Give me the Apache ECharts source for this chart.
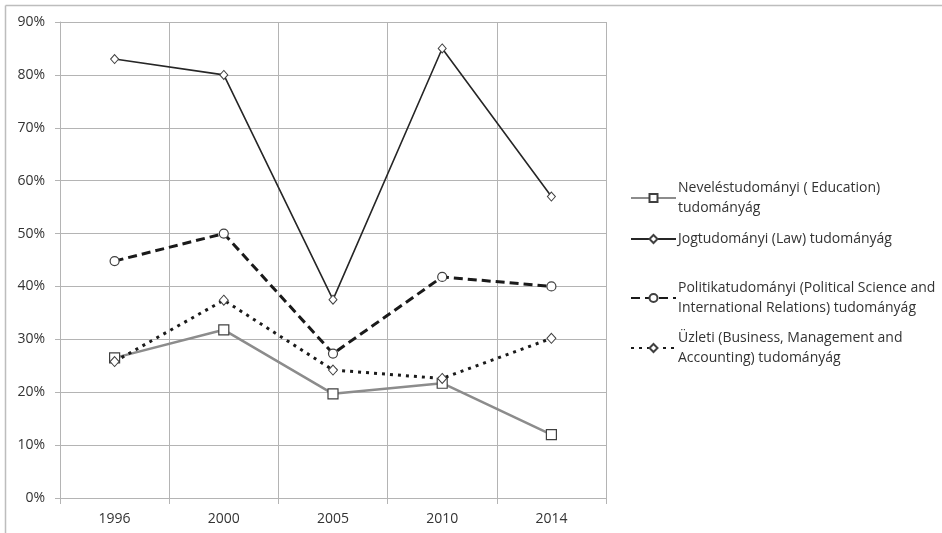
<!DOCTYPE html>
<html>
<head>
<meta charset="utf-8">
<script src="https://cdn.jsdelivr.net/npm/echarts@6/dist/echarts.min.js"></script>
<style>
html,body{margin:0;padding:0;background:#fff;}
#chart{width:942px;height:533px;}
</style>
</head>
<body>
<div id="chart"></div>
<script>
var years = ['1996', '2000', '2005', '2010', '2014'];
var educationName = 'Neveléstudományi ( Education)\ntudományág';
var lawName = 'Jogtudományi (Law) tudományág';
var politicsName = 'Politikatudományi (Political Science and\nInternational Relations) tudományág';
var businessName = 'Üzleti (Business, Management and\nAccounting) tudományág';
var education = [26.5, 31.8, 19.7, 21.7, 12.0];
var law = [83.0, 80.0, 37.5, 85.0, 57.0];
var politics = [44.8, 50.0, 27.3, 41.8, 40.0];
var business = [25.8, 37.4, 24.2, 22.6, 30.2];
var yTicks = [0, 10, 20, 30, 40, 50, 60, 70, 80, 90];

var chart = echarts.init(document.getElementById('chart'), null, {renderer: 'canvas'});
var font = 'Open Sans';
var txtColor = '#333333';
var gridColor = '#b4b4b4';

function legendFor(name, top) {
  return {
    data: [name],
    left: 630,
    top: top,
    orient: 'vertical',
    itemWidth: 45,
    itemHeight: 10,
    itemGap: 0,
    padding: 0,
    selectedMode: false,
    textStyle: {fontFamily: font, fontSize: 14, color: txtColor, lineHeight: 20, padding: [0, 0, 0, -3]}
  };
}

chart.setOption({
  animation: false,
  backgroundColor: '#fff',
  graphic: [
    {type: 'line', shape: {x1: 5.5, y1: 5.5, x2: 942, y2: 5.5}, style: {stroke: '#bdbdbd', lineWidth: 1.5}},
    {type: 'line', shape: {x1: 5.5, y1: 5.5, x2: 5.5, y2: 533}, style: {stroke: '#bdbdbd', lineWidth: 1.5}}
  ],
  grid: {left: 60, right: 336, top: 22, bottom: 35, containLabel: false},
  legend: [
    legendFor(educationName, 178),
    legendFor(lawName, 229),
    legendFor(politicsName, 278),
    legendFor(businessName, 328)
  ],
  xAxis: {
    type: 'category',
    data: years,
    boundaryGap: true,
    axisLine: {show: true, lineStyle: {color: gridColor, width: 1}},
    axisTick: {show: true, length: 6, lineStyle: {color: gridColor}},
    splitLine: {show: true, interval: 0, lineStyle: {color: gridColor, width: 1}},
    axisLabel: {fontFamily: font, fontSize: 14, color: txtColor, margin: 14}
  },
  yAxis: {
    type: 'value',
    min: yTicks[0],
    max: yTicks[yTicks.length - 1],
    interval: 10,
    axisLine: {show: true, lineStyle: {color: gridColor}},
    axisTick: {show: true, length: 5, lineStyle: {color: gridColor}},
    splitLine: {show: true, lineStyle: {color: gridColor, width: 1}},
    axisLabel: {fontFamily: font, fontSize: 14, color: txtColor, margin: 15, formatter: '{value}%'}
  },
  series: [
    {
      name: educationName, type: 'line', data: education,
      symbol: 'rect', symbolSize: 10,
      lineStyle: {color: '#8c8c8c', width: 2.5},
      itemStyle: {color: '#fff', borderColor: '#404040', borderWidth: 1.2},
      z: 2
    },
    {
      name: lawName, type: 'line', data: law,
      symbol: 'diamond', symbolSize: [8, 9],
      lineStyle: {color: '#262626', width: 1.6},
      itemStyle: {color: '#fff', borderColor: '#404040', borderWidth: 1},
      z: 3
    },
    {
      name: politicsName, type: 'line', data: politics,
      symbol: 'circle', symbolSize: 9,
      lineStyle: {color: '#1a1a1a', width: 3, type: [9, 5]},
      itemStyle: {color: '#fff', borderColor: '#404040', borderWidth: 1.2},
      z: 4
    },
    {
      name: businessName, type: 'line', data: business,
      symbol: 'diamond', symbolSize: [9, 10],
      lineStyle: {color: '#1a1a1a', width: 3, type: [3, 5]},
      itemStyle: {color: '#fff', borderColor: '#404040', borderWidth: 1},
      z: 5
    }
  ]
});
</script>
</body>
</html>
